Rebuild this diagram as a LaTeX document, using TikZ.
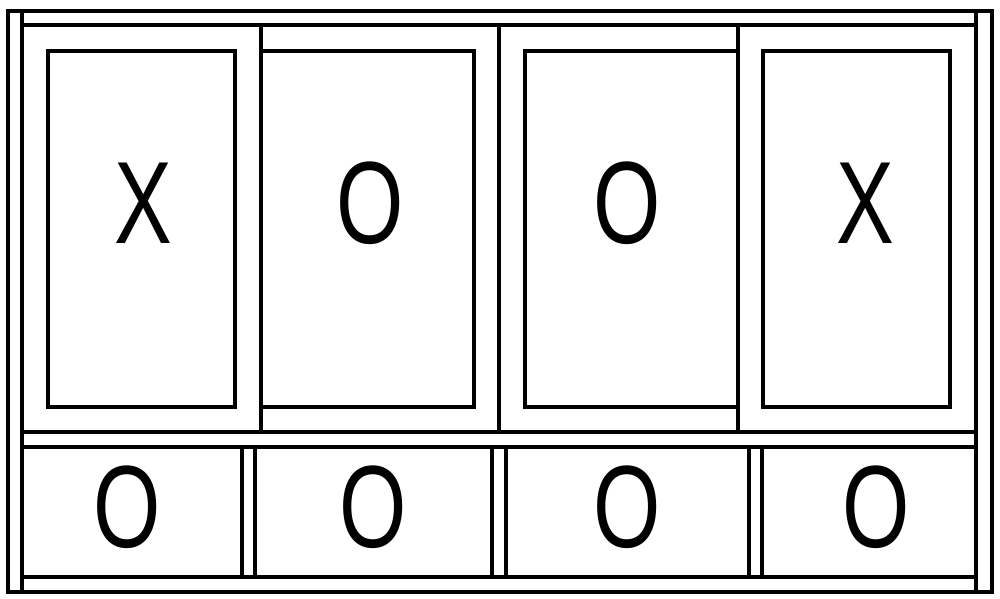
\documentclass[tikz,border=0pt]{standalone}
\usepackage{fontspec}
\setmainfont{Liberation Sans}
\begin{document}
\begin{tikzpicture}[x=1pt,y=-1pt,
  frame/.style={line width=3.2pt,line cap=rect},
  lbl/.style={font=\fontsize{117}{117}\selectfont,xscale=0.74,inner sep=0pt,anchor=base}]
\useasboundingbox (0,0) rectangle (1000,598);
% outer frame and jambs
\draw[frame] (8,11) rectangle (992,592);
\draw[frame] (22,11) -- (22,592);
\draw[frame] (976,11) -- (976,592);
\draw[frame] (22,25) -- (976,25);
\draw[frame] (22,577) -- (976,577);
\draw[frame] (22,432) -- (976,432);
\draw[frame] (22,447) -- (976,447);
% upper sash dividers
\draw[frame] (261,25) -- (261,432);
\draw[frame] (499,25) -- (499,432);
\draw[frame] (738,25) -- (738,432);
% glass panes
\draw[frame] (48,51) rectangle (235,407);
\draw[frame] (261,51) -- (474,51) -- (474,407) -- (261,407);
\draw[frame] (738,51) -- (525,51) -- (525,407) -- (738,407);
\draw[frame] (763,51) rectangle (950,407);
% lower row dividers
\draw[frame] (242,447) -- (242,577);
\draw[frame] (255,447) -- (255,577);
\draw[frame] (492,447) -- (492,577);
\draw[frame] (506,447) -- (506,577);
\draw[frame] (749,447) -- (749,577);
\draw[frame] (762,447) -- (762,577);
% labels
\node[lbl] (t1) at (143,243) {X};
\node[lbl] (t2) at (370,243) {O};
\node[lbl] (t3) at (627,243) {O};
\node[lbl] (t4) at (865,243) {X};
\node[lbl] (b1) at (127,547) {O};
\node[lbl] (b2) at (373,547) {O};
\node[lbl] (b3) at (627,547) {O};
\node[lbl] (b4) at (876,547) {O};
\end{tikzpicture}
\end{document}
